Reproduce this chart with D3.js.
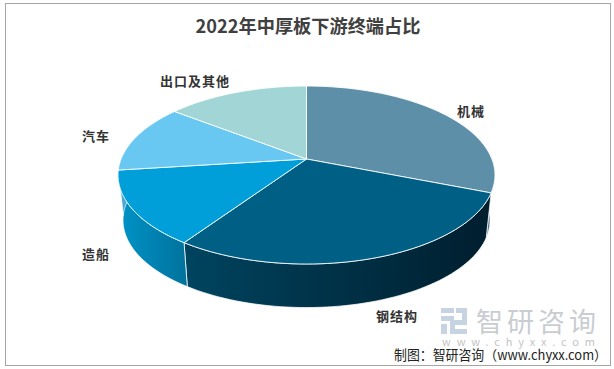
<!DOCTYPE html>
<html><head><meta charset="utf-8">
<script src="https://cdn.jsdelivr.net/npm/d3@7"></script>
<style>html,body{margin:0;padding:0;background:#fff}svg{display:block}</style>
</head><body><svg id="c" width="614" height="369"></svg>
<script>
const categories = ["机械","钢结构","造船","汽车","出口及其他"];
const shares = [31, 28.5, 13.5, 12.5, 14.5];
const topColors = ["#5e8fa8","#005f85","#009fd9","#68c8f2","#a2d5d5"];
const sideFrom = ["#3f6a80","#00445f","#0093c8","#4aa8d0","#7fb5b5"];
const sideTo   = ["#5a8094","#001e2e","#00729c","#4aa8d0","#7fb5b5"];
const labelAnchors = [[471,111],[397,316],[96,254],[96,136],[195,81]];
const titleText = "2022年中厚板下游终端占比";
const sourceText = "制图：智研咨询（www.chyxx.com）";

const svg = d3.select("#c");
const FONT = "'Noto Sans CJK SC','Noto Sans',sans-serif";
const defs = svg.append("defs");

// frame
svg.append("rect").attr("x",5.5).attr("y",3.5).attr("width",605).attr("height",362)
  .attr("fill","#fff").attr("stroke","#a6a6a6").attr("stroke-width",1);

// perspective projection of a flat disc: top rim and bottom rim
const P = 0.18, cx = 306.5;
function rim(A, B, y0){
  return a => {
    const u = Math.sin(a), v = -Math.cos(a), w = 1 - P*v;
    return [cx + A*u/w, y0 + B*v/w];
  };
}
const topRim = rim(185.4, 86.1, 159);
const botRim = rim(180.5, 84.5, 204.5);
const pie = d3.pie().sort(null).value(d=>d);
const arcs = pie(shares);
const samples = (a0,a1) => d3.range(0,61).map(d3.scaleLinear().domain([0,60]).range([a0,a1]));
const line = d3.line();

// visible side: front half of the rim, from the right extreme round to the left extreme
const visFrom = Math.PI/2 - 0.02, visTo = 3*Math.PI/2 + 0.02;
arcs.forEach((d,i)=>{
  const a0 = Math.max(d.startAngle, visFrom), a1 = Math.min(d.endAngle, visTo);
  if (a1 <= a0) return;
  const id = "side"+i;
  const t0 = samples(a0,a1).map(topRim), b0 = samples(a0,a1).map(botRim);
  const xs = t0.concat(b0).map(p=>p[0]);
  const g = defs.append("linearGradient").attr("id",id).attr("gradientUnits","userSpaceOnUse")
    .attr("x1",d3.min(xs)).attr("x2",d3.max(xs)).attr("y1",0).attr("y2",0);
  g.append("stop").attr("offset",0).attr("stop-color",sideFrom[i]);
  g.append("stop").attr("offset",1).attr("stop-color",sideTo[i]);
  svg.append("path").attr("d",line(t0.concat(b0.reverse()))+"Z")
    .attr("fill",`url(#${id})`).attr("stroke","#fff").attr("stroke-opacity",0.75).attr("stroke-width",1);
});

// top face
arcs.forEach((d,i)=>{
  const pts = [[cx,159]].concat(samples(d.startAngle,d.endAngle).map(topRim));
  svg.append("path").attr("d",line(pts)+"Z").attr("fill",topColors[i])
    .attr("stroke","#fff").attr("stroke-opacity",0.85).attr("stroke-width",1).attr("stroke-linejoin","round");
});

// title
svg.append("text").attr("x",308).attr("y",33).attr("text-anchor","middle")
  .attr("font-family",FONT).attr("font-size",18.2).attr("font-weight",700).attr("fill","#404040").text(titleText);

// labels
categories.forEach((c,i)=>{
  svg.append("text").attr("x",labelAnchors[i][0]).attr("y",labelAnchors[i][1]+4.5)
    .attr("text-anchor","middle").attr("font-family",FONT).attr("font-size",13).attr("font-weight",700)
    .attr("letter-spacing",1).attr("fill","#333").text(c);
});

// watermark
const logo = svg.append("g").attr("fill","#c5d3e2");
[[441,308,13,5],[441,316,13,5],[441,324,6,10],[456,308,11,5],[462,308,5,16],[450,320,17,5],[450,320,5,14],[450,329,17,5]]
  .forEach(r=>logo.append("rect").attr("x",r[0]).attr("y",r[1]).attr("width",r[2]).attr("height",r[3]));
svg.append("text").attr("x",476).attr("y",332).attr("font-family",FONT).attr("font-size",27)
  .attr("letter-spacing",4).attr("fill","#c9cdd1").text("智研咨询");
svg.append("text").attr("x",442).attr("y",345.5).attr("font-family",FONT).attr("font-size",11)
  .attr("textLength",153).attr("fill","#c4c4c4").text("www.chyxx.com");

// source
svg.append("text").attr("x",394).attr("y",359.5).attr("font-family",FONT).attr("font-size",13.5)
  .attr("fill","#222").attr("textLength",213).attr("lengthAdjust","spacingAndGlyphs").text(sourceText);
</script></body></html>
